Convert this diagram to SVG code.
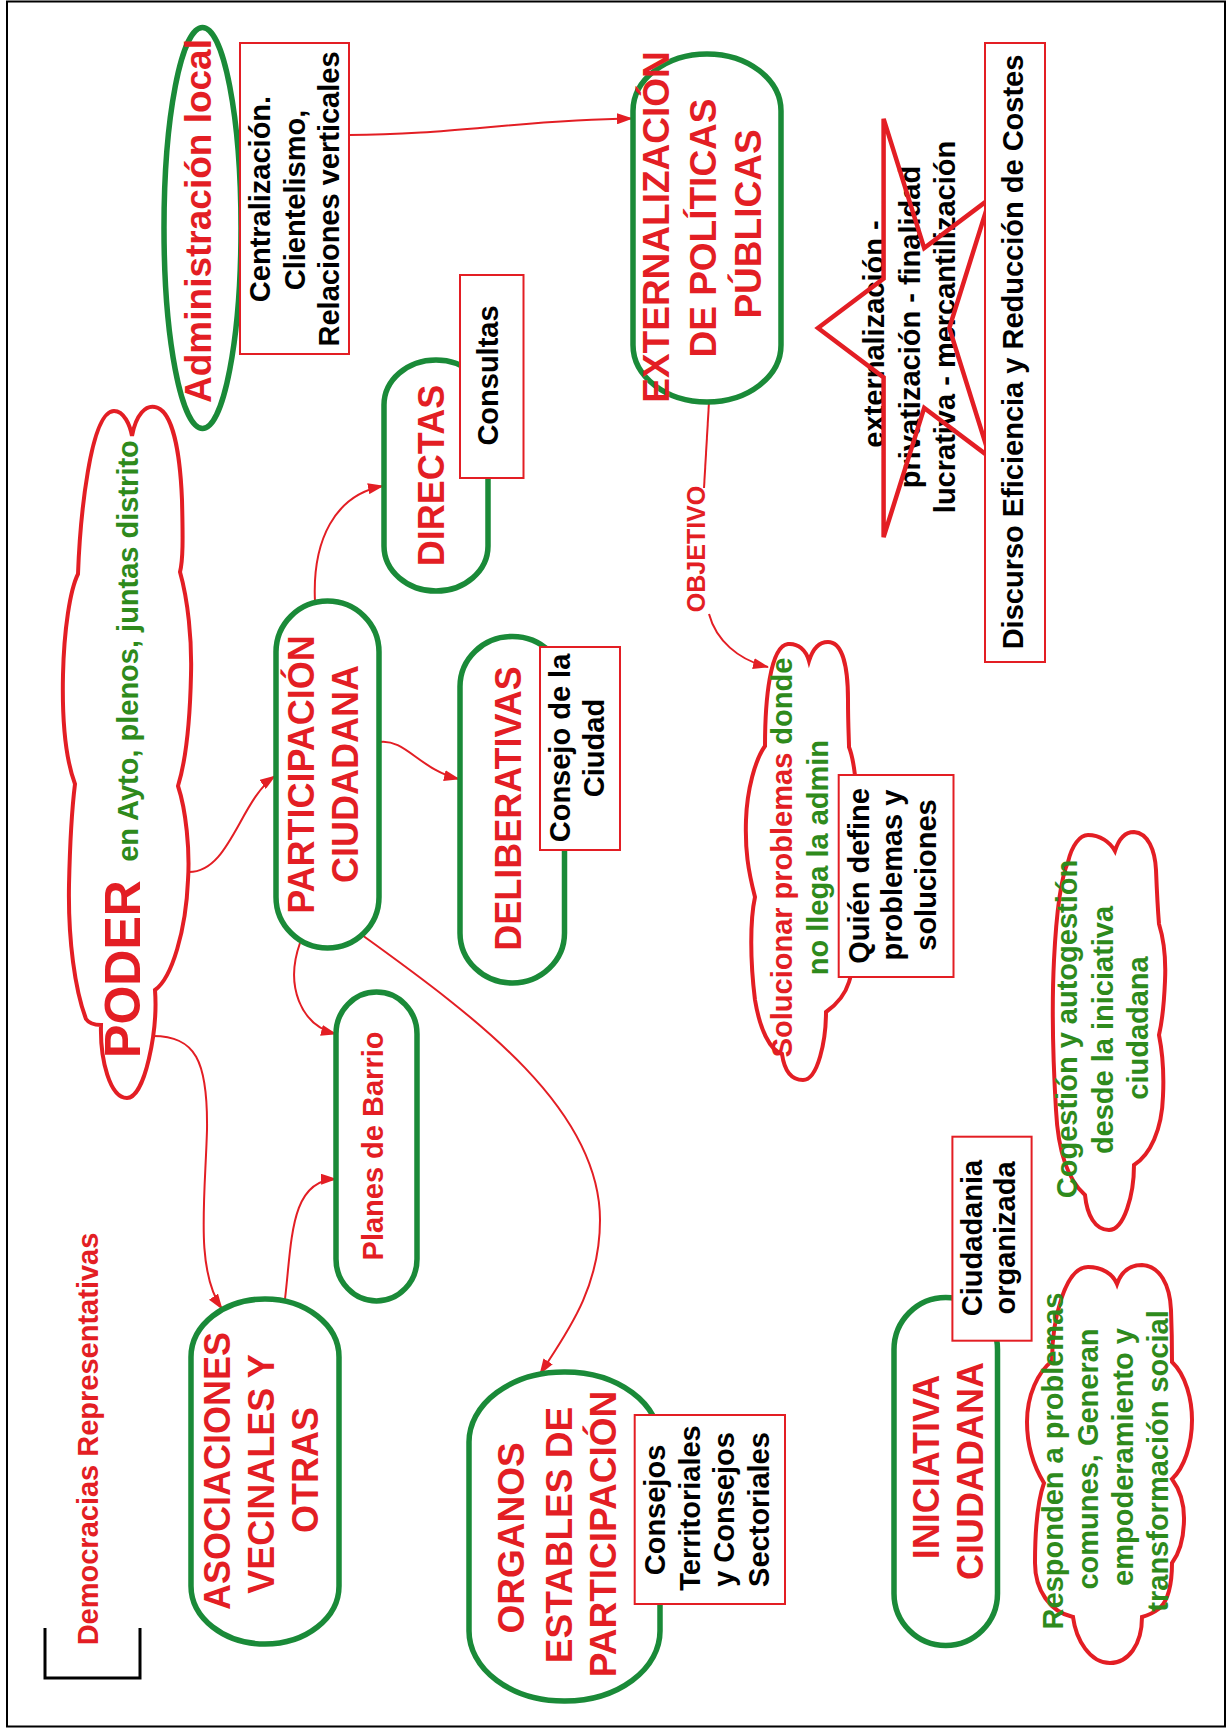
<svg xmlns="http://www.w3.org/2000/svg" width="1229" height="1731" viewBox="0 0 1229 1731">
<defs>
<style>
text{font-family:"Liberation Sans",Arial,Helvetica,sans-serif;font-weight:bold;text-anchor:middle}
.r{fill:#e31e24}.g{fill:#2e8a1c}.k{fill:#000}
.f25{font-size:25px}.f29{font-size:29px}.f36{font-size:36px}.f37{font-size:37px}.f50{font-size:50px}
.gs{fill:#fff;stroke:#1a8a38;stroke-width:5.5}
.rs{fill:#fff;stroke:#e31e24;stroke-width:2}
.cl{fill:#fff;stroke:#e31e24;stroke-width:4}
.st{fill:none;stroke:#e31e24;stroke-width:4.5;stroke-linejoin:miter}
.cn{fill:none;stroke:#e31e24;stroke-width:2}
</style>
<marker id="ah" viewBox="0 0 16 11" refX="15" refY="5.5" markerWidth="16" markerHeight="11" markerUnits="userSpaceOnUse" orient="auto">
<path d="M0,0 L16,5.5 L0,11 z" fill="#e31e24"/>
</marker>
</defs>
<rect x="0" y="0" width="1229" height="1731" fill="#fff"/>
<rect x="7" y="1.5" width="1218" height="1725" fill="none" stroke="#000" stroke-width="2"/>

<g id="bracket">
<path d="M45,1628 L45,1678 L140,1678 L140,1628" fill="none" stroke="#000" stroke-width="3"/>
</g>
<g id="democracias">
<text class="r f29" transform="translate(97.6,1439) rotate(-90)">Democracias Representativas</text>
</g>

<g id="connectors">
<path class="cn" d="M349,135 C450,135 520,120 632,118.6" marker-end="url(#ah)"/>
<path class="cn" d="M709,402 L704,488"/>
<path class="cn" d="M709,614 C716,640 738,660 768,667" marker-end="url(#ah)"/>
<path class="cn" d="M189,872 C230,872 240,800 275,776" marker-end="url(#ah)"/>
<path class="cn" d="M315,602 C312,540 335,495 383,486" marker-end="url(#ah)"/>
<path class="cn" d="M379,742 C405,738 420,770 459,779" marker-end="url(#ah)"/>
<path class="cn" d="M300,943 C285,985 300,1025 336,1034" marker-end="url(#ah)"/>
<path class="cn" d="M362,935 C480,1020 600,1110 600,1220 C600,1290 565,1335 540,1374" marker-end="url(#ah)"/>
<path class="cn" d="M153,1036 C195,1036 208,1060 207,1130 C205,1200 195,1270 222,1309" marker-end="url(#ah)"/>
<path class="cn" d="M285,1299 C292,1240 290,1180 336,1179" marker-end="url(#ah)"/>
</g>

<g id="objetivo">
<text class="r f25" transform="translate(705,549) rotate(-90)">OBJETIVO</text>
</g>

<g id="admin">
<ellipse class="gs" cx="202.5" cy="228" rx="38.5" ry="200.5"/>
<text class="r f37" transform="translate(210.5,221) rotate(-90)">Administración local</text>
</g>
<g id="centralizacion">
<rect class="rs" x="240" y="43" width="109" height="311"/>
<text class="k f29" transform="translate(270,199) rotate(-90)">Centralización.</text>
<text class="k f29" transform="translate(304.5,200) rotate(-90)">Clientelismo,</text>
<text class="k f29" transform="translate(339,199) rotate(-90)">Relaciones verticales</text>
</g>

<g id="externalizacion">
<rect class="gs" x="633" y="54" width="148" height="348" rx="74" ry="57"/>
<text class="r f37" transform="translate(669,227) rotate(-90)">EXTERNALIZACIÓN</text>
<text class="r f37" transform="translate(716,228) rotate(-90)">DE POLÍTICAS</text>
<text class="r f37" transform="translate(761,224) rotate(-90)">PÚBLICAS</text>
</g>

<g id="estrella">
<text class="k f29" transform="translate(884,334) rotate(-90)">externalización -</text>
<text class="k f29" transform="translate(920,327) rotate(-90)">privatización - finalidad</text>
<text class="k f29" transform="translate(955,327) rotate(-90)">lucrativa - mercantilización</text>
<path class="st" d="M818,328 L883.6,278.6 L883.6,118.8 L924.2,248.1 L989.9,198.6 L949.3,328 L989.9,457.4 L924.2,407.9 L883.6,537.2 L883.6,377.4 Z"/>
</g>

<g id="discurso">
<rect class="rs" x="985" y="43" width="60" height="619"/>
<text class="k f29" transform="translate(1023,352) rotate(-90)">Discurso Eficiencia y Reducción de Costes</text>
</g>

<g id="poder">
<path class="cl" d="M132,436 C136,414 146,405 155,407 C172,410 180,450 182,500 C183,540 183,560 180,572 C188,600 192,640 191,675 C190,720 186,760 178,786 C186,810 190,850 188,880 C186,930 172,978 155,990 C158,1030 145,1098 127,1098 C110,1098 100,1060 101,1025 C93,1025 88,1022 86,1019 C75,990 68,940 69,885 C70,840 73,800 75,784 C66,760 62,720 63,675 C64,630 70,590 78,574 C80,520 90,411 114,411 C124,411 130,425 132,436 Z"/>
<text class="r f50" transform="translate(140,969) rotate(-90)">PODER</text>
<text class="g f29" transform="translate(138,651) rotate(-90)">en Ayto, plenos, juntas distrito</text>
</g>

<g id="directas">
<rect class="gs" x="384" y="360" width="104" height="231" rx="52" ry="45"/>
<text class="r f36" transform="translate(444,475.5) rotate(-90)">DIRECTAS</text>
</g>
<g id="consultas">
<rect class="rs" x="460" y="275" width="63.5" height="203"/>
<text class="k f29" transform="translate(497.5,375.5) rotate(-90)">Consultas</text>
</g>

<g id="participacion">
<rect class="gs" x="276" y="601" width="103" height="347" rx="51.5" ry="51"/>
<text class="r f36" transform="translate(314,774.5) rotate(-90)">PARTICIPACIÓN</text>
<text class="r f36" transform="translate(358,774) rotate(-90)">CIUDADANA</text>
</g>

<g id="deliberativas">
<rect class="gs" x="460" y="636.5" width="104.5" height="346.5" rx="52" ry="50"/>
<text class="r f36" transform="translate(520.5,808.5) rotate(-90)">DELIBERATIVAS</text>
</g>
<g id="consejo-ciudad">
<rect class="rs" x="540" y="647" width="80" height="203"/>
<text class="k f29" transform="translate(570,748) rotate(-90)">Consejo de la</text>
<text class="k f29" transform="translate(604,748) rotate(-90)">Ciudad</text>
</g>

<g id="planes">
<rect class="gs" x="336" y="992" width="81" height="309" rx="40.5" ry="42"/>
<text class="r f29" transform="translate(383,1146) rotate(-90)">Planes de Barrio</text>
</g>

<g id="asociaciones">
<rect class="gs" x="191" y="1299" width="148" height="345" rx="74" ry="58"/>
<text class="r f36" transform="translate(229.6,1471) rotate(-90)">ASOCIACIONES</text>
<text class="r f36" transform="translate(273.6,1474) rotate(-90)">VECINALES Y</text>
<text class="r f36" transform="translate(317.6,1470) rotate(-90)">OTRAS</text>
</g>

<g id="organos">
<rect class="gs" x="469" y="1372" width="191" height="329" rx="95" ry="70"/>
<text class="r f37" transform="translate(524,1538) rotate(-90)">ORGANOS</text>
<text class="r f37" transform="translate(572,1535) rotate(-90)">ESTABLES DE</text>
<text class="r f37" transform="translate(616,1534) rotate(-90)">PARTICIPACIÓN</text>
</g>
<g id="consejos">
<rect class="rs" x="634.7" y="1415" width="150.3" height="189"/>
<text class="k f29" transform="translate(665,1510) rotate(-90)">Consejos</text>
<text class="k f29" transform="translate(700,1508) rotate(-90)">Territoriales</text>
<text class="k f29" transform="translate(734,1509.5) rotate(-90)">y Consejos</text>
<text class="k f29" transform="translate(769,1509.5) rotate(-90)">Sectoriales</text>
</g>

<g id="solucionar">
<path class="cl" d="M809,661 C813,648 820,642 828,642 C842,642 848,665 848,700 C848,725 849,740 849,747 C856,765 858,800 858,860 C858,920 856,960 849,982 C845,995 836,1005 826,1012 C826,1040 818,1080 803,1080 C790,1080 784,1068 782,1054 C770,1050 760,1030 755,1000 C750,960 750,920 755,897 C748,870 745,850 746,820 C747,790 755,760 765,746 C765,700 770,646 788,644 C798,643 806,650 809,661 Z"/>
<text class="f29" transform="translate(791.6,857.5) rotate(-90)"><tspan class="r">Solucionar problemas </tspan><tspan class="g">donde</tspan></text>
<text class="g f29" transform="translate(828,857.6) rotate(-90)">no llega la admin</text>
</g>
<g id="quien">
<rect class="rs" x="838.7" y="775" width="114.8" height="202"/>
<text class="k f29" transform="translate(869,876) rotate(-90)">Quién define</text>
<text class="k f29" transform="translate(902,875) rotate(-90)">problemas y</text>
<text class="k f29" transform="translate(936,875) rotate(-90)">soluciones</text>
</g>

<g id="cogestion">
<path class="cl" d="M1115,851 C1119,838 1126,832 1134,832 C1148,833 1155,850 1156,870 C1157,895 1158,912 1159,924 C1164,940 1166,960 1165,981 C1164,1005 1162,1022 1159,1035 C1163,1055 1164,1075 1163,1096 C1162,1130 1150,1155 1134,1165 C1134,1195 1124,1230 1109,1230 C1095,1230 1087,1215 1085,1195 C1068,1180 1058,1150 1056,1110 C1053,1060 1052,1000 1054,960 C1056,920 1060,880 1068,862 C1072,845 1080,835 1088,835 C1100,835 1110,842 1115,851 Z"/>
<text class="g f29" transform="translate(1077,1029) rotate(-90)">Cogestión y autogestión</text>
<text class="g f29" transform="translate(1113,1030) rotate(-90)">desde la iniciativa</text>
<text class="g f29" transform="translate(1147.5,1028) rotate(-90)">ciudadana</text>
</g>

<g id="iniciativa">
<rect class="gs" x="894" y="1297.5" width="103.5" height="348" rx="51.75" ry="52"/>
<text class="r f36" transform="translate(939,1467) rotate(-90)">INICIATIVA</text>
<text class="r f36" transform="translate(983,1471) rotate(-90)">CIUDADANA</text>
</g>
<g id="ciudadania">
<rect class="rs" x="952.4" y="1136.7" width="79.2" height="204"/>
<text class="k f29" transform="translate(982,1238) rotate(-90)">Ciudadania</text>
<text class="k f29" transform="translate(1015,1238) rotate(-90)">organizada</text>
</g>

<g id="responden">
<path class="cl" d="M1117,1284 C1122,1270 1132,1265 1142,1265 C1160,1266 1170,1285 1171,1310 C1172,1335 1172,1350 1172,1362 C1186,1375 1192,1400 1192,1420 C1192,1445 1184,1468 1172,1479 C1180,1490 1184,1505 1184,1518 C1184,1540 1178,1555 1172,1563 C1172,1585 1168,1600 1160,1608 C1152,1614 1146,1616 1142,1617 C1142,1645 1128,1663 1110,1663 C1090,1663 1076,1640 1073,1617 C1050,1612 1035,1590 1035,1563 C1035,1530 1038,1500 1044,1483 C1033,1465 1027,1445 1027,1422 C1027,1395 1038,1372 1052,1361 C1052,1320 1065,1267 1088,1267 C1102,1267 1113,1274 1117,1284 Z"/>
<text class="g f29" transform="translate(1063,1461) rotate(-90)">Responden a problemas</text>
<text class="g f29" transform="translate(1098,1459) rotate(-90)">comunes, Generan</text>
<text class="g f29" transform="translate(1133,1457) rotate(-90)">empoderamiento y</text>
<text class="g f29" transform="translate(1168,1461) rotate(-90)">transformación social</text>
</g>
</svg>
